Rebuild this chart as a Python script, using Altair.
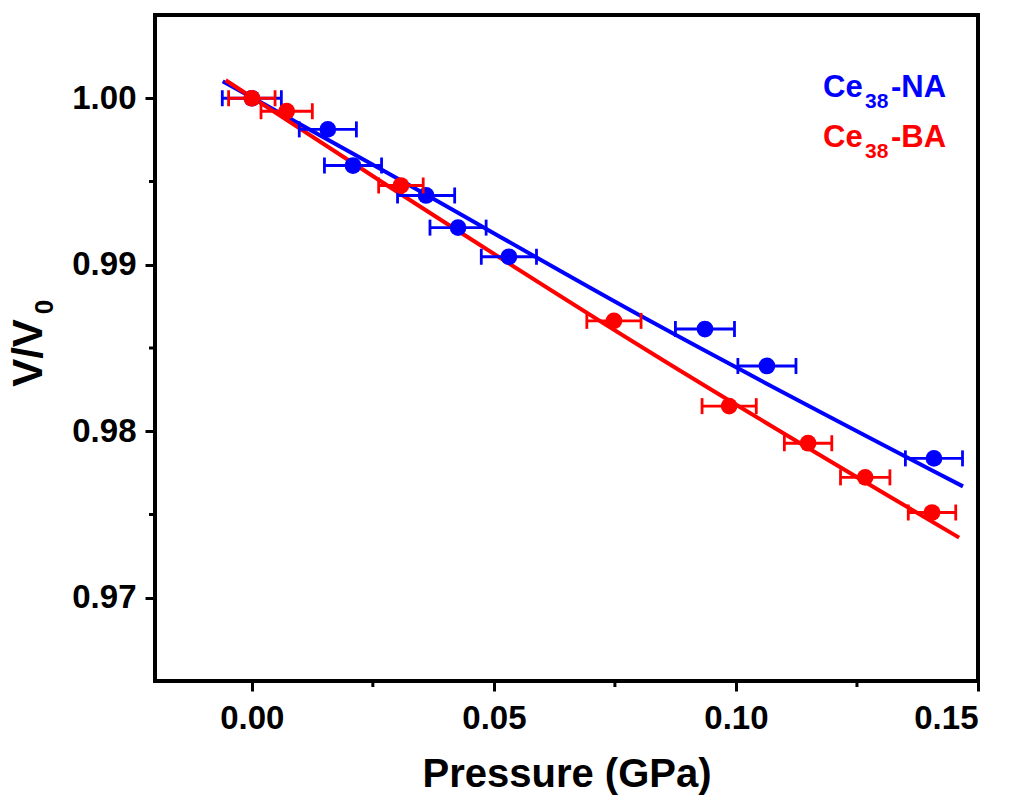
import altair as alt
import pandas as pd

# ---- data ----
na_p = [0.0, 0.0157, 0.0209, 0.0360, 0.0426, 0.0531, 0.0936, 0.1064, 0.1409]
na_v = [1.0000, 0.99813, 0.99596, 0.99416, 0.99223, 0.99048, 0.98614, 0.98392, 0.97837]
na_err = [0.0061, 0.0059, 0.0059, 0.0059, 0.0058, 0.0057, 0.0061, 0.0060, 0.0059]

ba_p = [0.0, 0.0072, 0.0308, 0.0748, 0.0986, 0.1149, 0.1267, 0.1405]
ba_v = [1.0000, 0.99922, 0.99476, 0.98663, 0.98151, 0.97928, 0.97723, 0.97512]
ba_err = [0.0048, 0.0053, 0.0046, 0.0056, 0.0056, 0.0049, 0.0051, 0.0049]

na_fit_p = [-0.0060, 0.0264, 0.0822, 0.1469]
na_fit_v = [1.00102, 0.99578, 0.98663, 0.97669]
ba_fit_p = [-0.0054, 0.0264, 0.0822, 0.1461]
ba_fit_v = [1.00108, 0.99506, 0.98476, 0.97361]

x_major = [0.0, 0.05, 0.10, 0.15]
x_minor = [0.025, 0.075, 0.125]
y_major = [0.97, 0.98, 0.99, 1.00]
y_minor = [0.975, 0.985, 0.995]

BLUE = "#0000FF"
RED = "#FF0000"
FONT = "Liberation Sans"

W, H = 823, 666

na = pd.DataFrame({"p": na_p, "v": na_v,
                   "lo": [p - e for p, e in zip(na_p, na_err)],
                   "hi": [p + e for p, e in zip(na_p, na_err)]})
ba = pd.DataFrame({"p": ba_p, "v": ba_v,
                   "lo": [p - e for p, e in zip(ba_p, ba_err)],
                   "hi": [p + e for p, e in zip(ba_p, ba_err)]})
na_fit = pd.DataFrame({"p": na_fit_p, "v": na_fit_v})
ba_fit = pd.DataFrame({"p": ba_fit_p, "v": ba_fit_v})

xs = alt.Scale(domain=[-0.02, 0.15], nice=False, zero=False)
ys = alt.Scale(domain=[0.965, 1.005], nice=False, zero=False)

x_axis = alt.Axis(values=x_major, format=".2f", title="Pressure (GPa)",
                  labelFont=FONT, labelFontSize=33, labelFontWeight="bold",
                  labelPadding=11, titleFont=FONT, titleFontSize=40,
                  titleFontWeight="bold", titlePadding=19, tickSize=10,
                  tickWidth=3, tickColor="black", labelColor="black",
                  titleColor="black", domain=False, grid=False)
y_axis = alt.Axis(values=y_major, format=".2f", title=None,
                  labelFont=FONT, labelFontSize=33, labelFontWeight="bold",
                  labelPadding=9, tickSize=10, tickWidth=3, tickColor="black",
                  labelColor="black", domain=False, grid=False)


def X(f):
    return alt.X(f, scale=xs, axis=x_axis)


def Y(f):
    return alt.Y(f, scale=ys, axis=y_axis)


blue_line = alt.Chart(na_fit).mark_line(color=BLUE, strokeWidth=4, interpolate="monotone").encode(
    x=X("p:Q"), y=Y("v:Q"))
red_line = alt.Chart(ba_fit).mark_line(color=RED, strokeWidth=4, interpolate="monotone").encode(
    x=X("p:Q"), y=Y("v:Q"))


def series(df, color):
    bar = alt.Chart(df).mark_rule(color=color, strokeWidth=2.8).encode(
        x=X("lo:Q"), x2="hi:Q", y=Y("v:Q"))
    cap_lo = alt.Chart(df).mark_tick(color=color, orient="vertical", size=16, thickness=2.8, opacity=1).encode(
        x=X("lo:Q"), y=Y("v:Q"))
    cap_hi = alt.Chart(df).mark_tick(color=color, orient="vertical", size=16, thickness=2.8, opacity=1).encode(
        x=X("hi:Q"), y=Y("v:Q"))
    pts = alt.Chart(df).mark_circle(color=color, size=280, opacity=1).encode(
        x=X("p:Q"), y=Y("v:Q"))
    return [bar, cap_lo, cap_hi, pts]


xminor = alt.Chart(pd.DataFrame({"m": x_minor})).mark_rule(color="black", strokeWidth=3).encode(
    x=X("m:Q"), y=alt.value(H), y2=alt.value(H + 6))
yminor = alt.Chart(pd.DataFrame({"m": y_minor})).mark_rule(color="black", strokeWidth=3).encode(
    y=Y("m:Q"), x=alt.value(0), x2=alt.value(-6))

dummy = pd.DataFrame({"a": [0]})


def txt(s, x, y, size, color="black", angle=0, align="left", baseline="alphabetic"):
    kw = dict(text=s, font=FONT, fontSize=size, fontWeight="bold", color=color,
              align=align, baseline=baseline)
    if angle:
        kw["angle"] = angle
    return alt.Chart(dummy).mark_text(**kw).encode(x=alt.value(x), y=alt.value(y))


texts = [
    txt("Ce", 668, 82, 31, BLUE), txt("38", 710, 93, 21, BLUE), txt("-NA", 736, 82, 31, BLUE),
    txt("Ce", 668, 132, 31, RED), txt("38", 710, 143, 21, RED), txt("-BA", 736, 132, 31, RED),
    txt("V/V", -113, 338, 42, angle=270, align="center"),
    txt("0", -102, 292, 26, angle=270, align="center"),
]

layers = [blue_line, red_line] + series(na, BLUE) + series(ba, RED) + [xminor, yminor] + texts

chart = alt.layer(*layers).properties(
    width=W, height=H,
    background="white",
    padding={"left": 155, "top": 15, "right": 38, "bottom": 118},
    autosize=alt.AutoSizeParams(type="none"),
).configure_view(stroke="black", strokeWidth=4)

chart.save("out.html", embed_options={"renderer": "svg", "actions": False})
